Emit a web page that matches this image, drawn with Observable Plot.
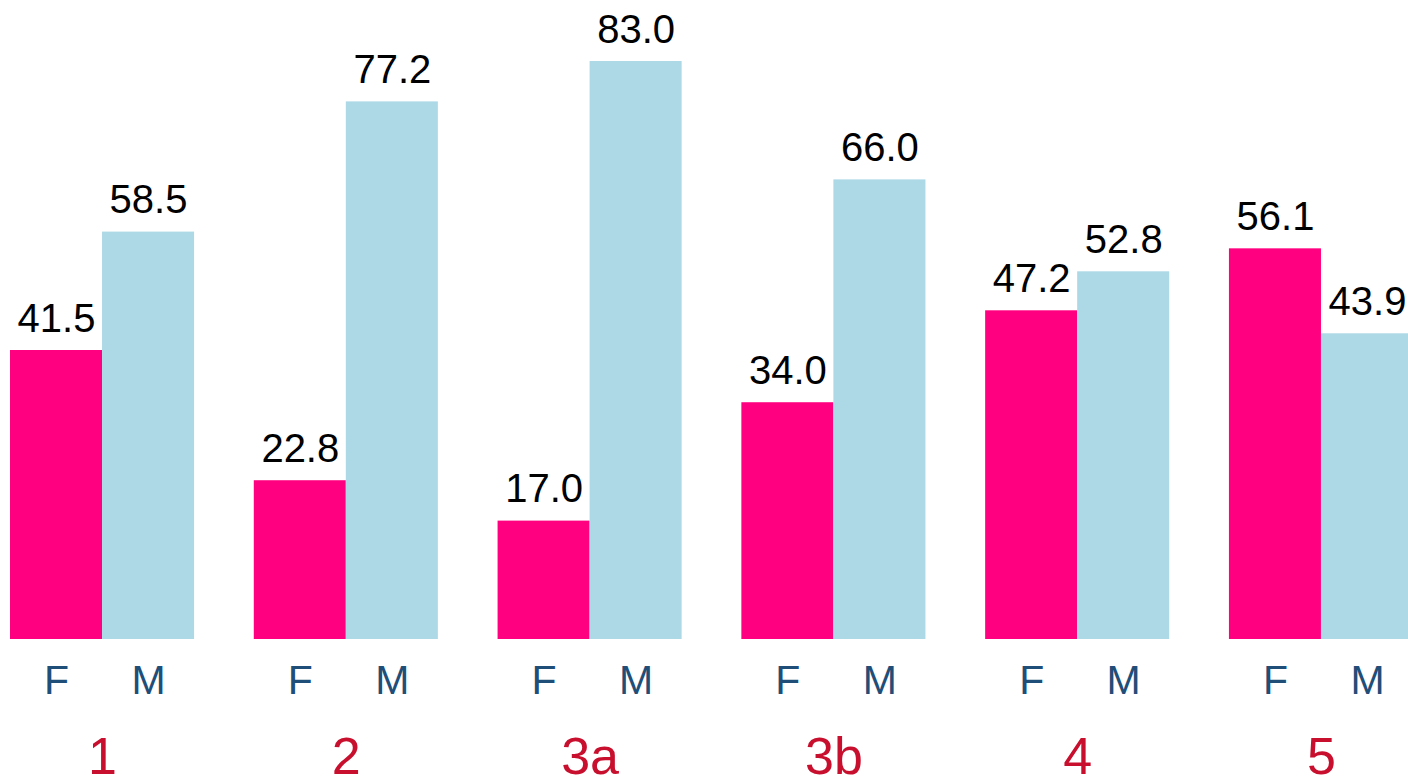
<!DOCTYPE html>
<html>
<head>
<meta charset="utf-8">
<script src="https://cdn.jsdelivr.net/npm/d3@7"></script>
<script src="https://cdn.jsdelivr.net/npm/@observablehq/plot@0.6"></script>
<style>
html, body { margin: 0; padding: 0; overflow: hidden; background: #fff; }
</style>
</head>
<body>
<div id="chart"></div>
<script>
const groups = ["1", "2", "3a", "3b", "4", "5"];
const sexes = ["F", "M"];
const femaleValues = [41.5, 22.8, 17.0, 34.0, 47.2, 56.1];
const maleValues = [58.5, 77.2, 83.0, 66.0, 52.8, 43.9];

const data = [];
groups.forEach((g, i) => {
  data.push({group: g, sex: "F", value: femaleValues[i]});
  data.push({group: g, sex: "M", value: maleValues[i]});
});

const font = "'Liberation Sans', Arial, sans-serif";

const chart = Plot.plot({
  width: 1413,
  height: 778,
  marginLeft: 10,
  marginRight: 0,
  marginTop: 61,
  marginBottom: 139,
  style: {fontFamily: font, background: "#fff", overflow: "visible", maxWidth: "none"},
  fx: {domain: groups, paddingInner: 0.245, paddingOuter: 0, round: false, axis: null},
  x: {domain: sexes, padding: 0, round: false, axis: null},
  y: {domain: [0, 83], axis: null},
  color: {domain: sexes, range: ["#ff0080", "#add8e6"]},
  marks: [
    Plot.barY(data, {fx: "group", x: "sex", y: "value", fill: "sex"}),
    Plot.text(data, {
      fx: "group", x: "sex", y: "value",
      text: d => d3.format(".1f")(d.value),
      lineAnchor: "bottom", dy: -19,
      fontSize: 40, fill: "#000"
    }),
    Plot.text(data, {
      fx: "group", x: "sex", text: "sex",
      frameAnchor: "bottom", lineAnchor: "bottom", dy: 54,
      fontSize: 41, fill: "#1f4e79"
    }),
    Plot.text(groups, {
      fx: d => d, text: d => d,
      frameAnchor: "bottom", lineAnchor: "bottom", dy: 134,
      fontSize: 52, fill: "#c8102e"
    })
  ]
});
document.getElementById("chart").appendChild(chart);
</script>
</body>
</html>
